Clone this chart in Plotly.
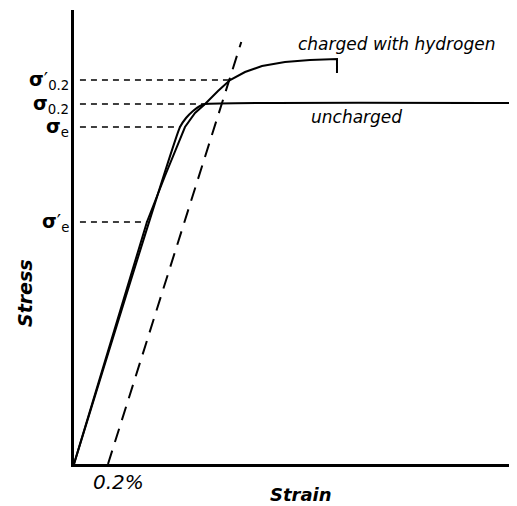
import plotly.graph_objects as go

# Data (strain in %, stress in arbitrary units)
uncharged_strain = [0.0, 0.6235, 0.659, 0.700, 0.741, 0.771, 2.606]
uncharged_stress = [0, 337, 346, 353, 358, 360, 361]

charged_strain = [0.0, 0.429, 0.535, 0.653, 0.712, 0.771, 0.847, 0.918, 1.006, 1.106, 1.241, 1.388, 1.547, 1.547]
charged_stress = [0, 242, 288, 337, 351, 360, 373, 384, 392, 398, 402, 404, 405, 391]

offset_strain = [0.2, 0.984]
offset_stress = [0, 422]

level_names = ["<b>σ</b>′<sub>0.2</sub>", "<b>σ</b><sub>0.2</sub>", "<b>σ</b><sub>e</sub>", "<b>σ</b>′<sub>e</sub>"]
level_stress = [384, 360, 337, 242]
level_strain = [0.918, 0.771, 0.6235, 0.429]

X_MAX = 2.606
Y_MAX = 454

fig = go.Figure()
fig.add_trace(go.Scatter(x=uncharged_strain, y=uncharged_stress, mode="lines",
                         line=dict(color="black", width=2, shape="spline", smoothing=0.4), showlegend=False))
fig.add_trace(go.Scatter(x=charged_strain, y=charged_stress, mode="lines",
                         line=dict(color="black", width=2), showlegend=False))
fig.add_trace(go.Scatter(x=offset_strain, y=offset_stress, mode="lines",
                         line=dict(color="black", width=2, dash="14px,9px"), showlegend=False))

for name, s, e in zip(level_names, level_stress, level_strain):
    fig.add_trace(go.Scatter(x=[0.035, e], y=[s, s], mode="lines",
                             line=dict(color="black", width=1.6, dash="6px,5px"), showlegend=False))
    fig.add_annotation(x=0, y=s, text=name, showarrow=False, xanchor="right",
                       yanchor="middle", xshift=-3,
                       font=dict(family="DejaVu Sans", size=19, color="black"))

def paper_x(v):
    return v / X_MAX

def paper_y(v):
    return v / Y_MAX

font_i = dict(family="DejaVu Sans", size=17, color="black")
fig.add_annotation(x=paper_x(1.306), y=paper_y(420), xref="paper", yref="paper",
                   text="<i>charged with hydrogen</i>", showarrow=False,
                   xanchor="left", yanchor="middle", font=font_i)
fig.add_annotation(x=paper_x(1.382), y=paper_y(347), xref="paper", yref="paper",
                   text="<i>uncharged</i>", showarrow=False,
                   xanchor="left", yanchor="middle", font=font_i)
fig.add_annotation(x=paper_x(0.26), y=paper_y(-18), xref="paper", yref="paper",
                   text="<i>0.2%</i>", showarrow=False,
                   xanchor="center", yanchor="middle", font=dict(family="DejaVu Sans", size=20, color="black"))
fig.add_annotation(x=paper_x(1.335), y=paper_y(-30), xref="paper", yref="paper",
                   text="<b><i>Strain</i></b>", showarrow=False,
                   xanchor="center", yanchor="middle", font=dict(family="DejaVu Sans", size=18, color="black"))
fig.add_annotation(x=paper_x(-0.288), y=paper_y(171), xref="paper", yref="paper",
                   text="<b><i>Stress</i></b>", showarrow=False, textangle=-90,
                   xanchor="center", yanchor="middle", font=dict(family="DejaVu Sans", size=19, color="black"))

fig.update_layout(
    width=509, height=498,
    margin=dict(l=66, r=0, t=2, b=42),
    paper_bgcolor="white", plot_bgcolor="white",
    xaxis=dict(range=[0, X_MAX], showgrid=False, zeroline=False, showticklabels=False,
               ticks="", showline=True, linecolor="black", linewidth=3),
    yaxis=dict(range=[0, Y_MAX], showgrid=False, zeroline=False, showticklabels=False,
               ticks="", showline=True, linecolor="black", linewidth=3),
)
fig.write_html("out.html")
